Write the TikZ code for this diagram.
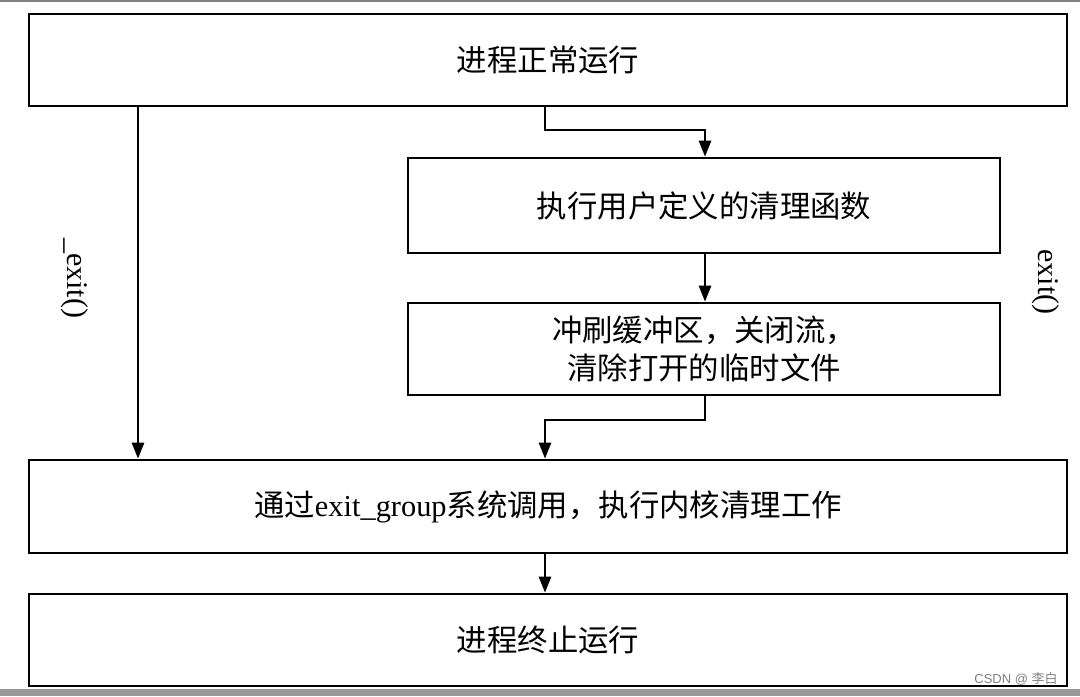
\documentclass[tikz,border=0pt]{standalone}
\usepackage{fontspec}
\setmainfont{Liberation Serif}
\newfontfamily\cjk{Noto Sans CJK SC}
\newfontfamily\wmfont{Liberation Sans}
\usetikzlibrary{positioning, calc}
\usetikzlibrary{arrows.meta}

\begin{document}
\begin{tikzpicture}[x=0.5pt,y=-0.5pt,line width=1.3pt,>={Triangle[length=8pt,width=6pt]}]
	\def \leftx{548}
	\def \rightx{704}
	\def \fullw{1038}
	\def \halfw{592}
	\tikzstyle{p-node}=[draw,rectangle,inner sep=0pt,align=center,font=\fontsize{15.2pt}{19pt}\selectfont]
	\tikzstyle{annot}=[font=\fontsize{15pt}{18pt}\selectfont,rotate=-90]
	\useasboundingbox (0,0) rectangle (1080,696);
	% frame of the page
	\draw[gray,line width=1pt] (0,0.5) -- (1080,0.5);
	\fill[gray!80] (0,689) rectangle (1080,696);
	
	% process steps
	\node[p-node,minimum width=\fullw*0.5pt,minimum height=46pt] (run)	at (\leftx,60)		{\cjk 进程正常运行};
	\node[p-node,minimum width=\halfw*0.5pt,minimum height=47.5pt] (user)	at (\rightx,205.5)	{\cjk 执行用户定义的清理函数};
	\node[p-node,minimum width=\halfw*0.5pt,minimum height=46pt] (flush)	at (\rightx,349)	{\cjk 冲刷缓冲区，关闭流，\\\cjk 清除打开的临时文件};
	\node[p-node,minimum width=\fullw*0.5pt,minimum height=46.5pt] (kern)	at (\leftx,506.5)	{{\cjk 通过}exit\_group{\cjk 系统调用，执行内核清理工作}};
	\node[p-node,minimum width=\fullw*0.5pt,minimum height=46pt] (stop)	at (\leftx,640)		{\cjk 进程终止运行};
	
	% bend points
	\coordinate (a0) at (138,106);
	\coordinate (b0) at (545,106);
	\coordinate (b1) at (545,130);
	\coordinate (b2) at (705,130);
	\coordinate (c0) at (705,395);
	\coordinate (c1) at (705,420);
	\coordinate (c2) at (545,420);
	
	% labels
	\node[annot] (lexit)	at (75,278)		{\_exit()};
	\node[annot] (rexit)	at (1046,282)	{exit()};
	\node[font=\wmfont\fontsize{6.5pt}{8pt}\selectfont,text=gray] (mark) at (1016,679) {CSDN @ {\cjk 李白}};
	
	\draw[->] (a0) -- (a0 |- kern.north);
	\draw[->] (b0) -- (b1) -- (b2) -- (b2 |- user.north);
	\draw[->] (user.south -| b2) -- (flush.north -| b2);
	\draw[->] (c0) -- (c1) -- (c2) -- (c2 |- kern.north);
	\draw[->] (kern.south -| c2) -- (stop.north -| c2);
\end{tikzpicture}
\end{document}
